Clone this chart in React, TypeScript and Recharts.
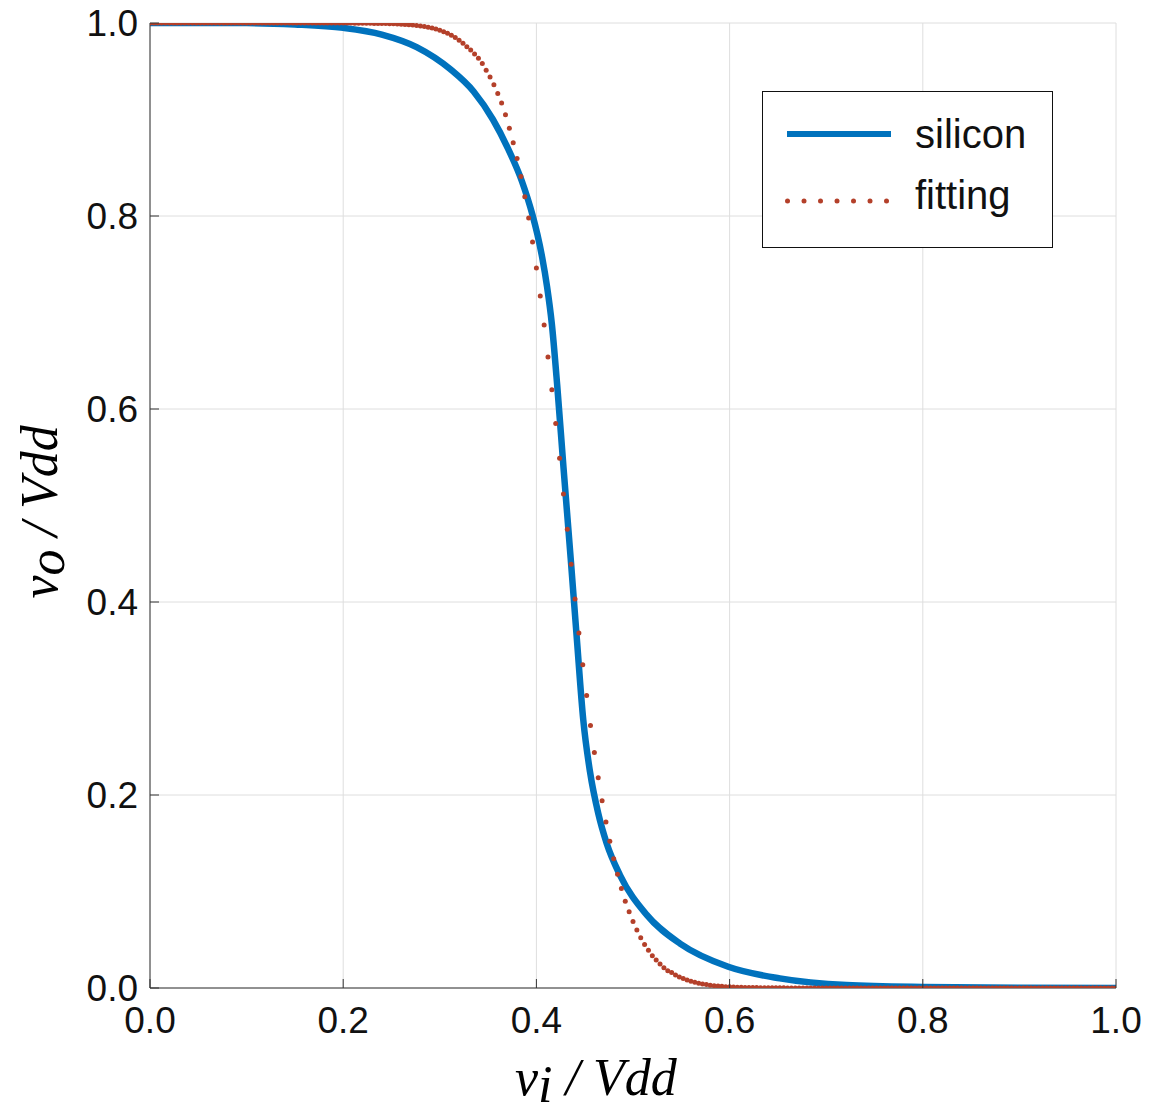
import { LineChart, Line, XAxis, YAxis, CartesianGrid, Legend, Label } from 'recharts';

// eixos
const xTicks = [0, 0.2, 0.4, 0.6, 0.8, 1];
const yTicks = [0, 0.2, 0.4, 0.6, 0.8, 1];

// curva "silicon"
const siliconX = [
  0, 0.1, 0.15, 0.2, 0.24, 0.276, 0.311, 0.335, 0.355, 0.371, 0.385, 0.391, 0.396, 0.401,
  0.406, 0.411, 0.416, 0.4215, 0.428, 0.4355, 0.4417, 0.4485, 0.4555, 0.464, 0.4727,
  0.4865, 0.514, 0.5487, 0.5986, 0.652, 0.721, 0.8, 0.9, 1,
];
const siliconY = [
  1, 0.9999, 0.9985, 0.995, 0.988, 0.975, 0.952, 0.929, 0.9, 0.869, 0.836, 0.818, 0.801, 0.781,
  0.757, 0.727, 0.688, 0.625, 0.54, 0.445, 0.364, 0.278, 0.224, 0.181, 0.15,
  0.117, 0.076, 0.046, 0.022, 0.01, 0.003, 0.001, 0.0002, 0,
];

// curva "fitting": um ponto a cada 0.004 em x
const FIT_STEP = 0.004;
const fittingY = [
  1, 1, 1, 1, 1, 1, 1, 1, 1, 1,
  1, 1, 1, 1, 1, 1, 1, 1, 1, 1,
  1, 1, 1, 1, 1, 1, 1, 1, 1, 1,
  1, 1, 1, 1, 1, 1, 1, 1, 1, 1,
  1, 1, 1, 1, 1, 1, 1, 1, 1, 1,
  0.9999, 0.9999, 0.9999, 0.9998, 0.9998, 0.9998, 0.9997, 0.9997, 0.9996, 0.9996,
  0.9995, 0.9994, 0.9993, 0.9992, 0.999, 0.9988, 0.9985, 0.9982, 0.9978, 0.9974,
  0.9969, 0.9963, 0.9956, 0.9947, 0.9937, 0.9925, 0.991, 0.9893, 0.9873, 0.985,
  0.9822, 0.979, 0.9755, 0.972, 0.968, 0.9635, 0.958, 0.951, 0.944, 0.936,
  0.927, 0.917, 0.905, 0.891, 0.876, 0.8595, 0.841, 0.82, 0.798, 0.773,
  0.746, 0.717, 0.687, 0.654, 0.62, 0.585, 0.549, 0.512, 0.4755, 0.439,
  0.403, 0.368, 0.335, 0.303, 0.272, 0.244, 0.218, 0.194, 0.172, 0.152,
  0.134, 0.118, 0.103, 0.09, 0.079, 0.069, 0.06, 0.052, 0.045, 0.039,
  0.0335, 0.029, 0.025, 0.021, 0.018, 0.016, 0.0135, 0.0115, 0.0098, 0.0083,
  0.007, 0.0059, 0.005, 0.0042, 0.0035, 0.0029, 0.0024, 0.002, 0.0017, 0.0014,
  0.0012, 0.001, 0.0008, 0.0007, 0.0006, 0.0005, 0.0004, 0.0004, 0.0003, 0.0003,
  0.0003, 0.0002, 0.0002, 0.0002, 0.0002, 0.0001, 0.0001, 0.0001, 0.0001, 0,
  0, 0, 0, 0, 0, 0, 0, 0, 0, 0,
  0, 0, 0, 0, 0, 0, 0, 0, 0, 0,
  0, 0, 0, 0, 0, 0, 0, 0, 0, 0,
  0, 0, 0, 0, 0, 0, 0, 0, 0, 0,
  0, 0, 0, 0, 0, 0, 0, 0, 0, 0,
  0, 0, 0, 0, 0, 0, 0, 0, 0, 0,
  0, 0, 0, 0, 0, 0, 0, 0, 0, 0,
  0, 0, 0, 0, 0, 0, 0, 0, 0, 0,
  0,
];

const siliconData = siliconX.map((x, i) => ({ x, y: siliconY[i] }));
const fittingData = fittingY.map((y, i) => ({ x: +(i * FIT_STEP).toFixed(3), y }));

const BLUE = '#0072BD';
const RED = '#B4402A';
const AXIS = '#333333';
const SANS = "'Liberation Sans', Arial, Helvetica, sans-serif";
const SERIF = "'Liberation Serif', 'Times New Roman', serif";
const TICK_LEN = 9;

const fmt = (v: number) => v.toFixed(1);

function BottomTick(props: any) {
  const { x, y, payload } = props;
  return (
    <g>
      <line x1={x} y1={y} x2={x} y2={y - TICK_LEN} stroke={AXIS} strokeWidth={1} />
      <text x={x} y={y + 45} textAnchor="middle" fontFamily={SANS} fontSize={37} fill="#111">
        {fmt(payload.value)}
      </text>
    </g>
  );
}

function LeftTick(props: any) {
  const { x, y, payload } = props;
  return (
    <g>
      <line x1={x} y1={y} x2={x + TICK_LEN} y2={y} stroke={AXIS} strokeWidth={1} />
      <text x={x - 12} y={y + 13} textAnchor="end" fontFamily={SANS} fontSize={37} fill="#111">
        {fmt(payload.value)}
      </text>
    </g>
  );
}

function TopTick(props: any) {
  const { x, y } = props;
  return <line x1={x} y1={y} x2={x} y2={y + TICK_LEN} stroke={AXIS} strokeWidth={1} />;
}

function RightTick(props: any) {
  const { x, y } = props;
  return <line x1={x} y1={y} x2={x - TICK_LEN} y2={y} stroke={AXIS} strokeWidth={1} />;
}

function XLabel(props: any) {
  const vb = props.viewBox || { x: 150, y: 988, width: 966 };
  return (
    <text
      x={vb.x + vb.width / 2 - 118}
      y={vb.y + 107}
      fontFamily={SERIF}
      fontStyle="italic"
      fontSize={52}
      fill="#000"
    >
      v<tspan dy={7}>i</tspan>
      <tspan dy={-7}> / Vdd</tspan>
    </text>
  );
}

function YLabel(props: any) {
  const vb = props.viewBox || { x: 50, y: 23, height: 965 };
  const lx = vb.x + 7;
  const ly = vb.y + vb.height / 2 + 93;
  return (
    <text
      x={lx}
      y={ly}
      transform={`rotate(-90, ${lx}, ${ly})`}
      fontFamily={SERIF}
      fontStyle="italic"
      fontSize={52}
      fill="#000"
    >
      v<tspan dy={7}>o</tspan>
      <tspan dy={-7}> / Vdd</tspan>
    </text>
  );
}

const legendDots = [0, 1, 2, 3, 4, 5, 6];

function LegendBox() {
  return (
    <svg width={291} height={157} style={{ display: 'block' }}>
      <rect x={0.5} y={0.5} width={290} height={156} fill="#fff" stroke="#111" strokeWidth={1} />
      <line x1={25} y1={43} x2={129} y2={43} stroke={BLUE} strokeWidth={6} />
      <text x={153} y={57} fontFamily={SANS} fontSize={40} fill="#111">silicon</text>
      {legendDots.map((i) => (
        <circle key={i} cx={25.5 + i * 16.5} cy={110} r={2.5} fill={RED} />
      ))}
      <text x={153} y={118} fontFamily={SANS} fontSize={40} fill="#111">fitting</text>
    </svg>
  );
}

export default function App() {
  return (
    <div style={{ position: 'absolute', left: 0, top: 0, width: 1151, height: 1115, background: '#fff' }}>
      <LineChart
        width={1151}
        height={1115}
        margin={{ top: 23, right: 35, bottom: 67, left: 50 }}
      >
        <CartesianGrid stroke="#dedede" strokeWidth={1} />
        <XAxis
          xAxisId={0}
          type="number"
          dataKey="x"
          domain={[0, 1]}
          ticks={xTicks}
          allowDataOverflow
          height={60}
          tickSize={0}
          tickMargin={0}
          tickLine={false}
          axisLine={{ stroke: AXIS, strokeWidth: 1 }}
          tick={BottomTick}
          interval={0}
        >
          <Label content={XLabel} />
        </XAxis>
        <XAxis
          xAxisId="top"
          orientation="top"
          type="number"
          domain={[0, 1]}
          ticks={xTicks}
          allowDataOverflow
          height={0}
          tickSize={0}
          tickMargin={0}
          tickLine={false}
          axisLine={{ stroke: AXIS, strokeWidth: 1 }}
          tick={TopTick}
          interval={0}
        />
        <YAxis
          yAxisId={0}
          type="number"
          domain={[0, 1]}
          ticks={yTicks}
          allowDataOverflow
          width={100}
          tickSize={0}
          tickMargin={0}
          tickLine={false}
          axisLine={{ stroke: AXIS, strokeWidth: 1 }}
          tick={LeftTick}
          interval={0}
        >
          <Label content={YLabel} />
        </YAxis>
        <YAxis
          yAxisId="right"
          orientation="right"
          type="number"
          domain={[0, 1]}
          ticks={yTicks}
          allowDataOverflow
          width={0}
          tickSize={0}
          tickMargin={0}
          tickLine={false}
          axisLine={{ stroke: AXIS, strokeWidth: 1 }}
          tick={RightTick}
          interval={0}
        />
        <Legend
          layout="horizontal"
          verticalAlign="middle"
          align="center"
          content={LegendBox}
          wrapperStyle={{ position: 'absolute', left: 762, top: 91, width: 291, height: 157 }}
        />
        <Line
          name="silicon"
          data={siliconData}
          dataKey="y"
          type="monotone"
          stroke={BLUE}
          strokeWidth={6.5}
          dot={false}
          activeDot={false}
          isAnimationActive={false}
        />
        <Line
          name="fitting"
          data={fittingData}
          dataKey="y"
          type="linear"
          stroke="none"
          dot={{ r: 2.5, fill: RED, stroke: 'none', strokeWidth: 0 }}
          activeDot={false}
          isAnimationActive={false}
        />
      </LineChart>
    </div>
  );
}
